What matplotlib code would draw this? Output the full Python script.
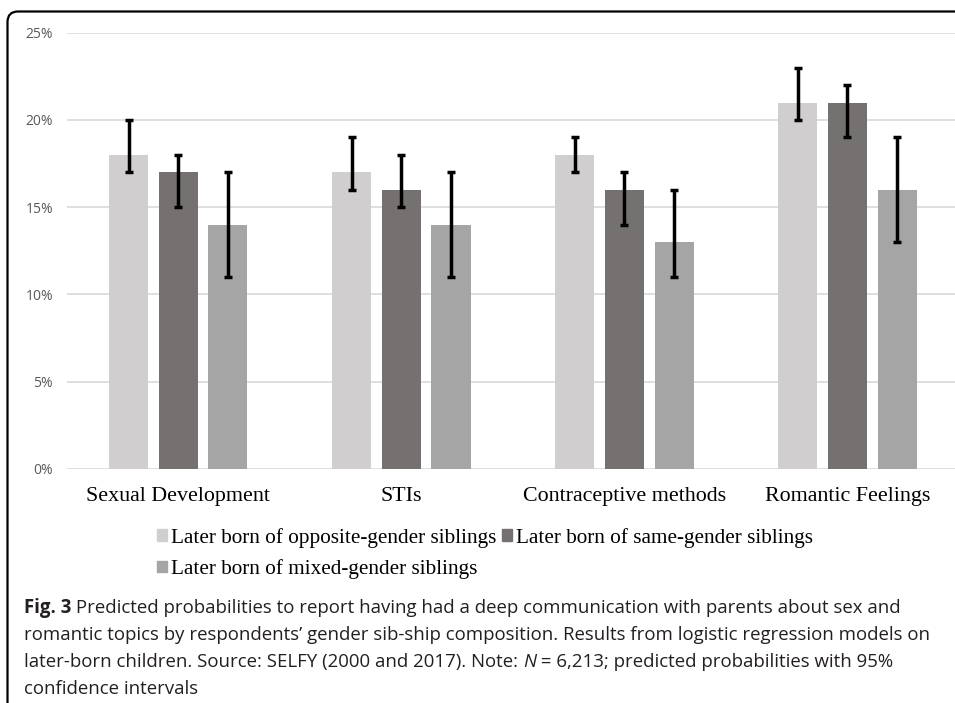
import matplotlib.pyplot as plt
import numpy as np
from matplotlib.patches import FancyBboxPatch, Patch

categories = ["Sexual Development", "STIs", "Contraceptive methods", "Romantic Feelings"]
series = ["Later born of opposite-gender siblings",
          "Later born of same-gender siblings",
          "Later born of mixed-gender siblings"]
# predicted probabilities (%) and 95% CI bounds, one list per series
values = [[18, 17, 18, 21],
          [17, 16, 16, 21],
          [14, 14, 13, 16]]
lower = [[17, 16, 17, 20],
         [15, 15, 14, 19],
         [11, 11, 11, 13]]
upper = [[20, 19, 19, 23],
         [18, 18, 17, 22],
         [17, 17, 16, 19]]
yticks = [0, 5, 10, 15, 20, 25]
colors = ["#D0CECE", "#767171", "#A5A5A5"]

W, H = 955, 703
fig = plt.figure(figsize=(W / 100, H / 100), dpi=100)

# rounded frame around the figure panel (open at right / bottom)
frame = FancyBboxPatch((7.5 / W, -0.05), 1.2, 1.05 - 11.5 / H,
                       boxstyle="round,pad=0,rounding_size=0.011",
                       transform=fig.transFigure, fill=False,
                       edgecolor="black", linewidth=1.6, mutation_aspect=W / H)
fig.patches.append(frame)

ax = fig.add_axes([66.8 / W, 1 - 469 / H, (959 - 66.8) / W, (469 - 32.7) / H])
x = np.arange(len(categories))
width = 0.175
offset = 0.2225
for i, name in enumerate(series):
    xs = x + (i - 1) * offset
    ax.bar(xs, values[i], width, color=colors[i], label=name, zorder=2)
    err = [np.array(values[i]) - np.array(lower[i]),
           np.array(upper[i]) - np.array(values[i])]
    ax.errorbar(xs, values[i], yerr=err, fmt="none", ecolor="black",
                elinewidth=2.5, capsize=3.2, capthick=2.5, zorder=3)

ax.set_xlim(-0.5, 3.5)
ax.set_ylim(0, 25)
ax.set_yticks(yticks)
ax.set_yticklabels([f"{t}%" for t in yticks], fontfamily="Open Sans",
                   fontsize=10, color="#595959")
ax.set_xticks(x)
ax.set_xticklabels(categories, fontfamily="Liberation Serif", fontsize=15.8)
ax.tick_params(axis="y", length=0, pad=10)
ax.tick_params(axis="x", length=0, pad=13)
ax.grid(axis="y", color="#D9D9D9", linewidth=1.2, zorder=0)
ax.set_axisbelow(True)
for s in ax.spines.values():
    s.set_visible(False)

handles = [Patch(color=colors[0]), Patch(color=colors[2]), Patch(color=colors[1])]
labels = [series[0], series[2], series[1]]
fig.legend(handles, labels, ncol=2, loc="upper left",
           bbox_to_anchor=(146 / W, 1 - 517 / H), frameon=False,
           prop={"family": "Liberation Serif", "size": 15.3},
           borderpad=0, handlelength=0.47, handleheight=0.47,
           handletextpad=0.2, columnspacing=0.28, labelspacing=0.55)

# caption
cap_lines = [
    [("Fig. 3", "bold", "normal"),
     (" Predicted probabilities to report having had a deep communication with parents about sex and", "normal", "normal")],
    [("romantic topics by respondents\u2019 gender sib-ship composition. Results from logistic regression models on", "normal", "normal")],
    [("later-born children. Source: SELFY (2000 and 2017). Note: ", "normal", "normal"),
     ("N", "normal", "italic"),
     (" = 6,213; predicted probabilities with 95%", "normal", "normal")],
    [("confidence intervals", "normal", "normal")],
]
baselines = [613, 640, 667, 694]
fig.canvas.draw()
renderer = fig.canvas.get_renderer()
for line, yb in zip(cap_lines, baselines):
    xpos = 24 / W
    for txt, wt, st in line:
        t = fig.text(xpos, 1 - yb / H, txt, fontfamily="Open Sans", fontsize=13.4,
                     fontweight=wt, fontstyle=st, color="#231F20", va="baseline")
        bb = t.get_window_extent(renderer)
        xpos = bb.x1 / W

fig.savefig("out.png", dpi=100)
